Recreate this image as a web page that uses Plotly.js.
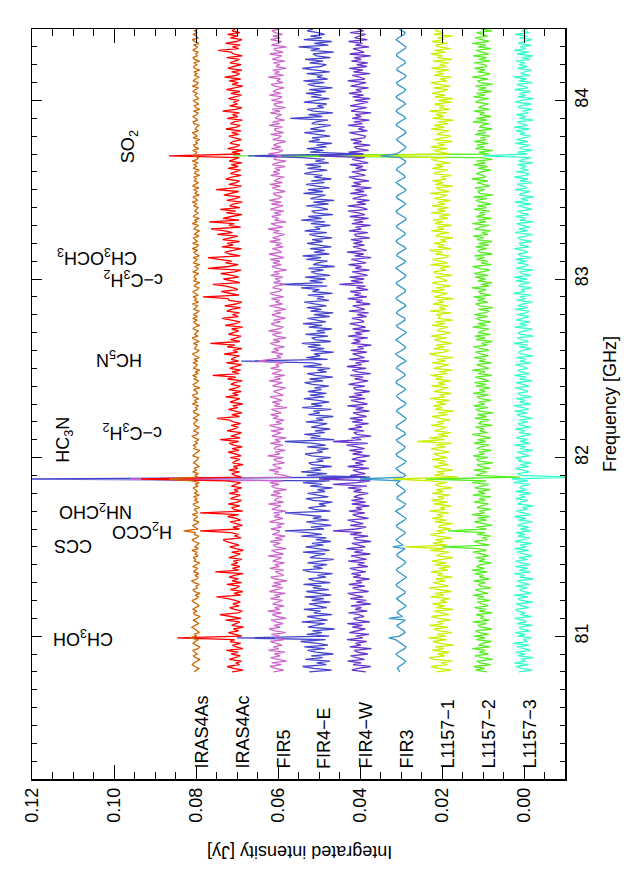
<!DOCTYPE html>
<html>
<head>
<meta charset="utf-8">
<script src="https://cdn.plot.ly/plotly-3.0.1.min.js"></script>
<style>
  body { margin: 0; background: #fff; }
  #chart { width: 628px; height: 879px; }
</style>
</head>
<body>
<div id="chart"></div>
<script>
// channel grid of the spectra (GHz)
var freqStart = 80.80;
var chanWidth = 0.01;

var names = ["IRAS4As", "IRAS4Ac", "FIR5", "FIR4\u2212E", "FIR4\u2212W", "FIR3", "L1157\u22121", "L1157\u22122", "L1157\u22123"];
var offsets = [0.08, 0.07, 0.06, 0.05, 0.04, 0.03, 0.02, 0.01, 0.00];
var colors = ["#cc6600", "#ff0000", "#cc66cc", "#4444cc", "#6633cc", "#3399cc", "#ccee00", "#55ee22", "#33ffcc"];

// spectra in units of 0.1 mJy, baseline offset removed, one value per channel
var iras4as = [
  4,-2,-7,3,9,5,-4,-10,1,6,-3,2,8,-5,-9,0,7,3,-6,16,
  -2,5,-8,-3,4,10,2,-6,-1,7,-4,-9,3,6,-2,8,1,-7,-3,5,
  9,-1,-6,2,-10,4,7,-3,0,-8,5,11,-2,-5,3,-7,6,2,-4,8,
  -3,-9,4,1,7,-5,2,-2,10,-6,3,-4,-8,5,9,-1,-6,4,2,30,
  -5,3,8,-2,-7,6,1,-4,9,-3,-1,5,-9,2,7,-6,3,-2,6,-8,
  4,-3,1,7,-5,2,-8,10,66,-5,3,-6,8,-1,4,-7,-2,6,1,-4,
  -6,8,3,-2,-9,5,1,7,-4,2,-7,4,9,-3,-5,6,0,-8,3,5,
  2,-5,7,-1,-8,4,6,-3,1,-6,9,-2,3,-7,5,8,-4,-1,6,-9,
  3,7,-2,-6,4,-1,8,-5,2,-9,6,1,-3,7,-4,5,-8,2,9,-2,
  -7,4,1,-3,6,-8,2,9,-5,3,-1,-6,7,4,-9,2,5,-3,8,-4,
  6,-2,-8,5,1,-4,9,-6,3,-1,7,-5,2,8,-3,-7,4,1,-9,6,
  -1,5,3,-7,8,-2,-5,4,-9,6,2,-3,7,-8,1,5,-4,9,-2,-6,
  8,-4,2,6,-7,3,-1,-9,5,1,-6,9,-3,4,-8,7,2,-5,3,-1,
  -5,6,-2,9,-4,1,7,-8,3,-3,5,-7,8,2,-6,4,-1,6,-9,3,
  2,-8,7,-1,4,-5,9,-3,-6,5,1,-2,8,-7,3,6,-4,2,-9,7,
  -3,4,9,-6,2,-1,-8,5,7,-4,3,8,-2,-5,6,-9,1,4,-7,2,
  6,-7,-1,3,-4,8,2,-6,9,-3,-5,7,1,-8,4,-2,5,-9,3,6,
  -2,5,-9,4,7,-3,1,-6,8,2,-4,6,-7,3,9,-5,-1,7,-3,4,
  -4];
var iras4ac = [
  12,-15,8,24,-6,3,-11,19,5,-8,14,-3,26,-14,2,11,-9,17,6,146,
  -12,7,21,-4,9,-16,13,3,-7,28,-10,15,42,-2,-13,6,18,-5,10,-8,
  4,22,50,-9,8,-14,16,1,-6,25,-11,12,-3,19,7,-15,53,-4,11,-7,
  14,-2,9,-12,20,5,-8,13,-16,3,18,-5,11,27,34,-10,6,-3,15,90,
  -6,10,-13,4,17,-9,2,23,-4,90,-14,8,12,-7,21,-1,-11,16,5,-8,
  19,-3,7,-12,14,2,-9,26,234,-11,5,13,-6,20,-2,9,-15,11,4,-7,
  16,-10,3,22,-5,12,-13,8,19,-4,41,-8,15,1,-11,24,6,-3,14,-9,
  9,18,49,-6,13,-12,4,21,-2,10,-14,17,5,-7,28,-3,11,-10,20,2,
  -8,15,6,-13,23,3,59,-5,12,-9,18,1,-11,26,-4,14,7,-6,31,-2,
  10,-12,24,5,65,-7,16,2,-10,21,8,-4,13,-14,29,4,-8,17,36,-3,
  11,-6,25,14,-9,30,3,-12,19,22,83,-5,15,38,-2,9,27,59,-7,18,
  33,-4,12,40,6,-10,71,21,-3,28,13,44,71,-8,17,30,5,-11,37,9,
  24,-6,35,16,-2,48,11,29,63,-9,20,7,68,-5,34,14,-12,26,3,41,
  -7,18,10,-13,25,4,-8,32,15,-4,51,9,-11,20,2,-6,27,13,-10,16,
  5,-9,22,-3,14,-12,19,8,-5,166,-8,12,-14,23,3,-7,17,10,-11,6,
  20,-4,13,-10,27,1,-8,16,7,-13,24,-2,11,-6,35,4,-12,18,-1,9,
  -5,21,3,-11,15,-7,26,6,-14,12,-3,19,-9,30,2,-6,13,-12,22,8,
  -10,17,4,-6,25,-13,9,14,46,-4,11,-8,28,1,-12,16,-2,23,-7,12,
  5];
var fir5 = [
  11,-14,6,20,-8,15,-21,3,18,-5,9,-17,23,-2,12,-10,4,19,-16,7,
  -3,16,-19,8,22,-6,10,-13,5,17,-20,2,14,-9,25,-4,8,-15,13,1,
  -11,19,-5,9,-18,21,3,-12,15,-7,11,-22,6,18,-14,-1,7,-14,20,-3,
  8,-16,13,2,-9,24,-13,5,16,-20,4,12,-6,19,-11,7,-18,14,1,-5,
  17,-8,3,-15,21,6,-12,10,-4,10,-19,15,2,-7,23,-14,9,4,-10,18,
  -6,12,-21,8,16,-3,20,-11,360,-30,-17,9,-2,22,-9,6,13,-16,3,11,
  -13,25,-4,7,-18,10,4,-12,19,-6,8,-20,15,2,-7,17,-14,6,21,-9,
  5,-15,12,-1,18,-8,3,16,-22,9,-4,14,-10,7,20,-13,2,11,-5,-18,
  13,4,-11,22,-6,9,-17,15,1,-9,18,-3,6,-14,50,21,-8,3,-12,16,
  -2,10,-16,7,19,-5,12,-20,4,14,-9,23,-1,-13,8,17,-6,11,-18,2,
  15,-7,9,-19,3,21,-11,6,-4,16,-14,8,20,-2,-10,13,5,-17,11,-6,
  7,-12,18,-3,10,-21,2,15,-8,12,-5,19,-15,4,22,-9,-1,14,-13,6,
  -9,20,-6,13,1,-16,11,-3,24,-12,5,17,-20,8,-2,15,-7,9,-14,19,
  4,-13,16,-8,21,-1,-10,7,12,-18,3,14,-6,20,-11,9,2,-15,18,-4,
  12,-5,8,-17,14,3,-20,10,6,-9,23,-3,-12,16,-7,11,1,-19,13,-2,
  -8,18,-14,5,9,-11,22,-4,13,-16,7,2,-9,19,-5,14,-18,6,10,-13,
  16,-2,-10,21,-7,12,4,-15,8,17,-12,3,-6,24,-14,9,-3,13,-20,5,
  -4,11,-17,14,2,-9,20,-13,6,10,-21,16,-1,-8,18,-5,12,-11,7,15,
  -2];
var fir4e = [
  24,-31,12,40,-18,6,-27,33,-9,19,-35,8,28,-14,36,-22,3,45,-16,200,
  -25,30,-7,16,-38,27,9,-14,42,-21,5,29,-32,13,-4,37,-19,2,24,-28,
  18,-12,35,-30,7,31,-24,15,-6,38,-28,11,26,-17,4,-33,21,40,-9,14,
  -20,28,-3,-36,22,10,-15,39,-26,5,33,-11,17,-29,8,-18,43,-7,25,83,
  -12,20,-30,7,31,-24,15,-6,38,83,-28,11,26,-17,0,-33,14,32,-23,9,
  28,-15,4,-33,22,-8,39,-26,800,-125,30,-19,44,-5,20,-31,17,25,-11,6,
  -29,18,34,-9,5,-23,29,-16,12,83,-37,21,-4,36,-14,10,-27,19,2,-20,
  32,-11,7,-35,26,-2,14,-30,41,-8,19,-25,3,37,-13,22,-18,27,-6,11,
  -24,16,35,-10,23,-34,8,29,-19,4,-27,38,-7,15,190,-21,31,-3,12,-36,
  20,-13,27,-4,42,-29,9,18,-22,33,-15,6,-31,25,-8,39,-17,2,28,-26,
  13,-35,21,-6,30,-18,11,36,-24,5,-12,27,-33,16,-1,44,-20,95,-9,23,
  -16,34,-27,8,19,-11,26,-38,14,3,-21,31,-5,40,-25,12,-14,22,-30,7,
  29,-9,17,-32,6,24,-19,35,-3,11,-28,20,-15,43,-7,26,-34,9,18,-22,
  -4,31,-23,14,-37,21,2,-16,38,-10,27,-26,5,32,-13,19,-30,12,-8,36,
  15,-20,28,-5,33,-24,9,-14,40,173,-93,22,-11,30,-18,6,-32,25,-2,17,
  -27,11,36,-15,21,-3,-29,18,7,-22,70,-8,26,-34,13,29,-12,4,-19,37,
  8,-25,19,-6,32,-17,24,-33,10,27,-13,38,-21,5,-9,30,-26,16,41,-4,
  -18,23,-10,34,-28,6,15,-36,20,-2,50,-23,12,-31,37,-7,21,-14,3,29,
  15];
var fir4w = [
  -14,20,5,-26,17,-3,30,-11,8,23,-19,6,14,-28,25,-2,11,-16,32,-7,
  10,-22,26,3,-13,19,-6,31,-24,7,16,-10,2,28,-18,12,-4,22,-26,9,
  -15,24,-8,13,30,-21,4,18,-12,27,-5,10,-23,17,-2,21,-14,8,25,-19,
  6,-11,29,-16,3,22,-25,14,-7,33,-13,1,20,-27,9,15,-20,24,-4,66,
  9,-15,24,-8,13,30,-21,4,18,-12,27,-5,10,-23,20,-14,21,-9,15,3,
  -20,16,-4,29,-17,66,7,-25,100,-14,24,-13,6,17,-22,30,-8,12,-15,20,
  5,-24,18,-6,26,-11,9,33,-19,66,-3,21,-27,8,15,-10,28,-5,12,-21,
  19,-7,25,-16,4,17,-23,11,-9,31,-18,2,22,-13,27,-6,14,-24,9,16,
  -12,28,-2,-20,13,-8,24,-26,7,19,-15,32,-4,11,-22,26,-11,3,18,-17,
  23,-9,6,-28,21,-1,15,-19,29,-5,12,-24,18,-14,8,25,-10,-3,20,-16,
  7,-21,27,-12,3,18,-25,10,-6,30,-17,14,-2,24,-20,9,-13,50,-8,22,
  -10,26,-18,5,19,-23,12,-4,28,-15,6,21,-27,13,-9,32,-16,2,17,-11,
  16,-6,22,-24,9,14,-19,27,-3,11,-26,20,-8,15,-21,25,-12,4,29,-18,
  -5,30,-14,8,-23,18,3,-17,24,-10,13,-28,21,-2,16,-22,10,27,-13,6,
  20,-16,11,-7,25,-20,2,19,-12,100,-9,28,-21,7,14,-25,17,-4,23,-10,
  -14,9,26,-18,4,-11,29,-6,15,-23,19,-3,12,-27,22,8,-16,24,-1,-20,
  13,-25,18,-9,27,-4,10,-21,23,6,-15,30,-12,1,19,-24,16,-7,26,-17,
  8,-19,21,-3,14,-26,25,-10,4,17,-22,11,-6,28,-18,13,2,-14,24,-9,
  6];
var fir3 = [
  3,7,9,5,-2,-8,-11,-6,1,8,12,6,-3,-9,-12,-5,2,9,13,30,
  4,-3,-10,-7,0,6,10,4,-5,-11,30,-4,3,9,7,-1,-8,-12,-6,2,
  8,11,5,-3,-9,-10,-4,3,10,12,6,-2,-8,-13,-7,1,7,11,8,0,
  -6,-11,-9,-2,5,10,9,3,-4,-10,20,-5,2,8,12,7,-1,-7,-11,-5,
  3,9,11,6,-2,-9,-12,-6,2,8,13,7,-3,-8,-11,-4,4,10,9,2,
  -5,-10,-8,-1,6,11,8,1,100,-5,-11,-6,3,9,12,5,-3,-9,-12,-4,
  4,10,12,5,-2,-8,-10,-5,2,9,11,4,-4,-11,-9,-2,6,12,10,3,
  -4,-10,-12,-6,1,7,11,8,0,-7,-12,-9,-1,6,10,9,2,-5,-11,-8,
  0,7,12,10,3,-5,-10,-8,-2,5,11,9,1,-6,-12,-7,2,8,13,6,
  -2,-9,-11,-5,3,9,12,6,-1,-8,-13,-7,2,8,11,5,-3,-10,-9,-1,
  6,11,8,1,-6,-12,-8,0,7,12,9,2,-5,-11,-10,-3,5,10,11,4,
  -3,-9,-12,-6,2,8,12,7,-1,-8,-11,-5,3,10,9,2,-6,-12,-8,0,
  7,12,9,2,-5,-10,-9,-2,6,11,10,3,-4,-11,-12,-5,3,9,12,6,
  -2,-8,-11,-7,1,8,11,7,-1,-9,-12,-6,2,9,12,5,-4,-10,-8,-1,
  6,11,9,3,-4,-10,-11,-5,2,50,12,4,-3,-9,-12,-6,1,8,11,7,
  -1,-7,-12,-9,-2,6,11,10,3,-5,-11,-8,0,7,12,8,1,-6,-11,-7,
  1,8,12,7,-1,-8,-11,-6,2,9,11,5,-3,-10,-12,-5,3,10,9,2,
  -5,-11,-9,-2,5,11,10,3,-4,-10,-12,-6,1,8,12,7,-2,-8,-10,-3,
  5];
var l1157_1 = [
  15,-22,8,27,-13,2,-26,19,31,-7,10,-18,24,-4,16,-29,5,22,-11,33,
  -9,13,-24,6,20,-15,30,-3,12,-21,8,26,-17,1,19,-28,14,-6,23,-12,
  4,-19,28,-5,17,-23,9,32,-16,3,21,-8,15,-25,11,-2,27,-14,7,-20,
  18,-10,25,-1,-27,13,6,-18,29,-9,90,-13,22,-4,16,-24,10,29,-7,14,
  -21,9,3,-26,18,-11,24,-2,12,-17,30,-8,5,-22,20,-14,26,-5,11,-19,
  23,-3,14,-25,8,17,-12,28,120,-40,19,-6,13,-27,4,21,-16,9,-8,25,
  -13,7,20,-18,2,26,-9,15,-24,60,-6,31,-15,10,-22,18,3,-11,27,-4,
  12,-20,5,24,-14,9,-28,17,-1,22,-10,14,-19,29,-7,6,-23,19,2,-16,
  26,-8,11,-21,16,-3,28,-13,7,-25,20,1,-17,24,-9,13,-27,8,30,-5,
  -18,21,-6,15,-24,4,18,-11,27,-2,-20,12,6,-15,25,-8,17,-26,10,3,
  14,-23,29,-10,7,-16,22,-4,11,-28,19,2,-13,26,-6,15,-21,9,24,-12,
  -3,17,-25,12,21,-9,5,-19,28,-14,8,23,-7,-18,16,-1,30,-22,11,-6,
  20,-11,4,-27,15,9,-17,26,-5,13,-24,18,-2,22,-15,7,-20,27,-8,12,
  -16,25,-7,10,-21,19,1,-12,29,-18,6,14,-26,17,-4,23,-10,3,-23,21,
  8,-14,24,-3,16,-20,11,27,-9,220,-18,5,21,-13,28,-7,12,-25,19,-2,
  -22,13,2,-17,26,-6,20,-15,9,-28,23,-4,15,-11,31,-19,7,-5,18,-24,
  10,-27,17,-8,25,1,-14,21,-20,6,28,-12,4,-23,19,-3,14,-18,26,-10,
  5,-16,22,-25,12,-1,27,-9,18,-21,8,15,-13,24,-6,11,-26,20,-4,16,
  10];
var l1157_2 = [
  -10,18,-4,23,-19,7,15,-24,3,20,-13,9,-6,26,-17,11,2,-21,16,-5,
  22,-14,8,19,-22,4,13,-9,25,-16,6,-2,17,-23,10,-8,21,-12,1,14,
  -18,14,-3,24,-12,8,19,-20,5,12,-7,23,-15,9,-1,20,-11,27,-4,16,
  6,-21,11,-6,18,-14,3,25,-9,13,100,-17,7,22,-10,2,-19,15,-5,85,
  -8,17,-23,2,21,-9,13,-16,28,-4,9,-20,15,4,-13,22,-6,10,-19,25,
  -5,12,-18,20,3,-14,26,-8,140,-90,18,5,-10,23,-17,7,14,-24,9,16,
  -12,24,-3,10,-21,15,6,-15,22,-7,13,-19,4,27,-11,8,-2,19,-23,11,
  5,-16,20,-9,14,-25,7,18,-12,23,-4,11,-20,6,15,-13,24,-6,9,-18,
  17,-8,21,-15,2,19,-22,12,-5,26,-14,3,16,-21,10,-7,22,-13,6,19,
  -15,9,24,-10,4,-23,17,-6,20,-18,12,2,-14,25,-9,13,-20,8,16,-11,
  21,-3,-16,11,-24,7,18,-12,14,-5,23,-19,6,10,-8,27,-15,4,-22,13,
  -6,19,-13,22,1,-17,9,25,-20,5,-11,16,-4,21,-23,8,13,-9,18,-14,
  11,-22,15,-2,24,-12,3,-18,20,7,-15,26,-8,12,-21,17,-5,9,-16,22,
  -9,14,-20,6,18,-10,23,-25,8,13,-4,20,-17,2,15,-12,27,-7,-1,16,
  4,-19,12,-11,23,-6,16,-23,5,610,-14,10,-24,19,-3,15,-13,21,-8,6,
  -17,20,-7,13,-22,9,3,-15,25,-10,17,-20,8,-4,22,-16,11,2,-13,18,
  9,-14,23,-5,16,-21,11,-8,19,-24,7,14,-12,26,-2,-18,13,-6,21,-10,
  -3,22,-17,10,-9,24,-14,4,17,-20,12,-7,26,-15,5,19,-11,-1,16,-22,
  3];
var l1157_3 = [
  13,-20,6,19,-11,24,-5,8,-23,15,-2,21,-16,4,17,-13,26,-8,2,-19,
  16,-4,22,-15,7,12,-21,18,-6,3,23,-17,9,-3,14,20,-12,5,19,-22,
  8,15,-10,25,-18,2,11,-7,20,-14,6,17,-22,9,-1,24,-16,12,-9,21,
  -15,7,21,-9,13,-20,4,18,-12,24,-6,10,-19,22,3,-14,16,-2,20,-17,
  9,-12,17,2,-21,14,-5,23,-16,6,19,-8,4,-23,15,8,-10,21,-3,12,
  -18,20,-6,11,5,-15,25,-9,30,-120,7,16,-13,2,22,-11,9,-17,14,6,
  21,-14,3,18,-22,9,-4,24,-15,10,-8,19,5,-18,12,-3,20,-16,7,15,
  -9,13,-21,6,17,-7,23,-12,2,26,-16,11,-4,20,-19,8,15,-10,3,22,
  -13,5,19,-20,11,-6,24,-14,8,16,-9,2,21,-17,10,-5,18,-22,7,13,
  4,-18,12,-8,25,-11,6,17,-24,9,14,-3,-20,23,-7,11,-15,19,1,-12,
  17,-5,-13,22,-9,15,3,-21,18,-4,10,-17,25,-2,7,-19,13,6,-14,20,
  -8,24,-16,5,12,-22,19,-1,-11,16,-6,21,-18,9,14,-10,2,23,-13,8,
  11,-19,7,15,-3,-21,22,-8,13,-14,4,18,-23,10,-5,20,-12,6,16,-20,
  -2,14,-17,23,-10,8,-24,12,5,-15,21,-7,3,17,-20,11,-9,24,-4,-13,
  19,-11,9,-6,16,-22,13,2,-18,100,-7,15,-21,11,4,-14,22,-9,18,-3,
  -16,10,-2,20,-13,24,-8,6,17,-23,12,-5,19,-11,3,-20,14,9,-17,21,
  7,-24,15,-4,11,-16,23,-10,2,18,-21,13,-6,25,-14,8,-1,-19,16,-7,
  12,-3,20,-15,6,-22,17,-12,24,-5,9,-18,14,1,-20,11,-8,22,-13,5,
  -8];

var spectra = [iras4as, iras4ac, fir5, fir4e, fir4w, fir3, l1157_1, l1157_2, l1157_3];

// molecule labels and the line frequencies they mark (GHz)
var molText = ["CH<sub>3</sub>OH", "CCS", "H<sub>2</sub>CCO", "NH<sub>2</sub>CHO", "HC<sub>3</sub>N",
  "c\u2212C<sub>3</sub>H<sub>2</sub>", "HC<sub>5</sub>N", "c\u2212C<sub>3</sub>H<sub>2</sub>",
  "CH<sub>3</sub>OCH<sub>3</sub>", "SO<sub>2</sub>"];
var molFreq = [80.993, 81.505, 81.586, 81.694, 81.881, 82.093, 82.539, 82.966, 82.966, 83.688];

var freq = iras4as.map(function (v, k) { return +(freqStart + k * chanWidth).toFixed(3); });

var FONT = "Liberation Sans, Arial, Helvetica, sans-serif";
var f18 = { family: FONT, size: 18, color: "#000" };

// IRAS4As last so it sits on top
var traces = [];
for (var i = names.length - 1; i >= 0; i--) {
  var off = offsets[i];
  traces.push({
    x: spectra[i].map(function (v) { return off + v * 1e-4; }),
    y: freq,
    mode: "lines",
    line: { color: colors[i], width: 1.3 },
    hoverinfo: "skip",
    showlegend: false
  });
}

var ann = [];
names.forEach(function (n, i) {
  ann.push({ text: n, x: offsets[i], xref: "x", y: 0, yref: "paper", xshift: 5, yshift: 8,
    textangle: -90, xanchor: "center", yanchor: "bottom", showarrow: false, font: f18 });
});

// label placement: pixel x of label centre, shift from the line, angle
var molPx = [83, 73, 142, 96, 65, 132, 119, 133, 97, 129];
var molDy = [0, 0, 1, 1, 39, 10, 3, 6, 28, 9];
var molAng = [180, 180, 180, 180, -90, 180, 180, 180, 180, -90];
molText.forEach(function (t, i) {
  ann.push({ text: t, x: (molPx[i] - 32) / 533, xref: "paper", y: molFreq[i], yref: "y", yshift: molDy[i],
    textangle: molAng[i], xanchor: "center", yanchor: "middle", showarrow: false, font: f18 });
});

ann.push({ text: "Integrated intensity [Jy]", x: 0.503, xref: "paper", y: 0, yref: "paper", yshift: -73,
  textangle: 180, xanchor: "center", yanchor: "middle", showarrow: false, font: f18 });
ann.push({ text: "Frequency [GHz]", x: 1, xref: "paper", xshift: 45, y: 0.5, yref: "paper",
  textangle: -90, xanchor: "center", yanchor: "middle", showarrow: false, font: f18 });

var layout = {
  width: 628, height: 879,
  margin: { l: 32, r: 63, t: 29, b: 100 },
  paper_bgcolor: "#fff", plot_bgcolor: "#fff",
  font: f18,
  xaxis: {
    range: [0.12, -0.01], autorange: false,
    tick0: 0, dtick: 0.02, tickformat: ".2f", tickangle: -90,
    ticks: "inside", ticklen: 14, tickwidth: 1, tickcolor: "#000",
    minor: { dtick: 0.005, ticks: "inside", ticklen: 7, tickcolor: "#000" },
    showline: true, linecolor: "#000", linewidth: 1.5, mirror: "allticks",
    showgrid: false, zeroline: false, tickfont: f18
  },
  yaxis: {
    side: "right", range: [80.2, 84.4], autorange: false,
    tick0: 0, dtick: 1, tickangle: -90,
    ticks: "inside", ticklen: 10, tickwidth: 1, tickcolor: "#000",
    minor: { dtick: 0.1, ticks: "inside", ticklen: 5, tickcolor: "#000" },
    showline: true, linecolor: "#000", linewidth: 1.5, mirror: "allticks",
    showgrid: false, zeroline: false, tickfont: f18
  },
  annotations: ann
};

Plotly.newPlot("chart", traces, layout, { displayModeBar: false, staticPlot: true });
</script>
</body>
</html>
